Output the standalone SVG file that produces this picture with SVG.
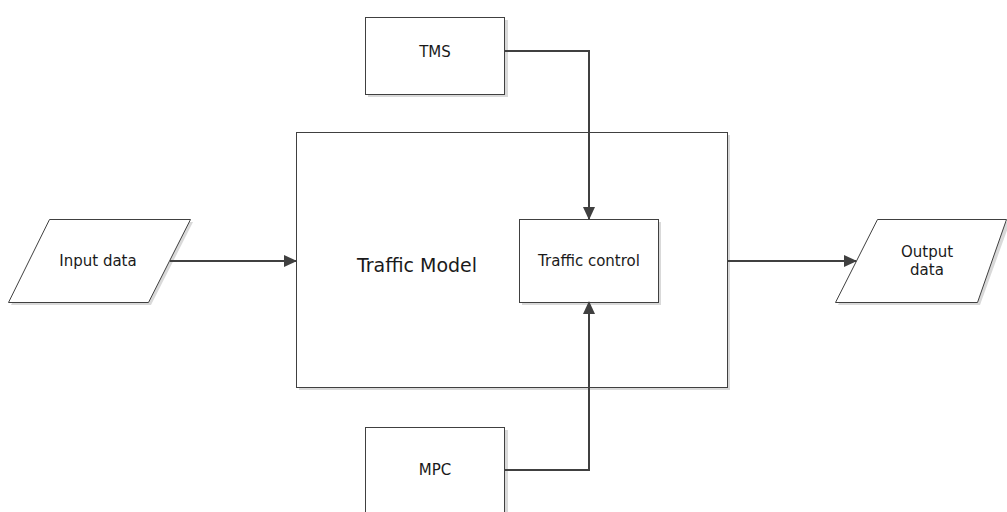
<svg xmlns="http://www.w3.org/2000/svg" width="1007" height="512" viewBox="0 0 1007 512">
<style>
.n{fill:#fff;stroke:#404040;stroke-width:1}
.sh{fill:#d9d9d9;stroke:none}
.t{font-family:"DejaVu Sans",Verdana,sans-serif;font-size:15px;fill:#1a1a1a;text-anchor:middle}
.big{font-size:19px}
.c{fill:none;stroke:#404040;stroke-width:2}
</style>
<defs>
<marker id="ah" markerWidth="13" markerHeight="12" refX="12" refY="6" orient="auto" markerUnits="userSpaceOnUse" viewBox="0 0 13 12">
<path d="M0,0 L13,6 L0,12 Z" fill="#404040"/>
</marker>
</defs>
<g id="model">
<rect class="sh" x="299" y="135" width="431" height="255"/>
<rect class="n" x="296.5" y="132.5" width="431" height="255"/>
<text class="t big" x="417" y="272">Traffic Model</text>
</g>
<g id="input">
<polygon class="sh" points="52,222 193,222 151,305 11,305"/>
<polygon class="n" points="49.5,219.5 190.5,219.5 148.5,302.5 8.5,302.5"/>
<text class="t" x="98" y="266">Input data</text>
</g>
<g id="tms">
<rect class="sh" x="368" y="20" width="140" height="77"/>
<rect class="n" x="365.5" y="17.5" width="139" height="77"/>
<text class="t" x="435" y="57">TMS</text>
</g>
<g id="control">
<rect class="sh" x="522" y="222" width="139" height="83"/>
<rect class="n" x="519.5" y="219.5" width="139" height="83"/>
<text class="t" x="589" y="266">Traffic control</text>
</g>
<g id="mpc">
<rect class="sh" x="368" y="430" width="140" height="85"/>
<rect class="n" x="365.5" y="427.5" width="139" height="90"/>
<text class="t" x="435" y="475">MPC</text>
</g>
<g id="output">
<polygon class="sh" points="880,222 1010,222 980,305 838,305"/>
<polygon class="n" points="877.5,219.5 1006.5,219.5 977.5,302.5 835.5,302.5"/>
<text class="t" x="927" y="257">Output</text>
<text class="t" x="927" y="275">data</text>
</g>
<g id="connectors">
<path class="c" d="M170,261 L296,261" marker-end="url(#ah)"/>
<path class="c" d="M727,261 L856,261" marker-end="url(#ah)"/>
<path class="c" d="M504,51 L589,51 L589,219" marker-end="url(#ah)"/>
<path class="c" d="M505,470 L589,470 L589,302" marker-end="url(#ah)"/>
</g>
</svg>
